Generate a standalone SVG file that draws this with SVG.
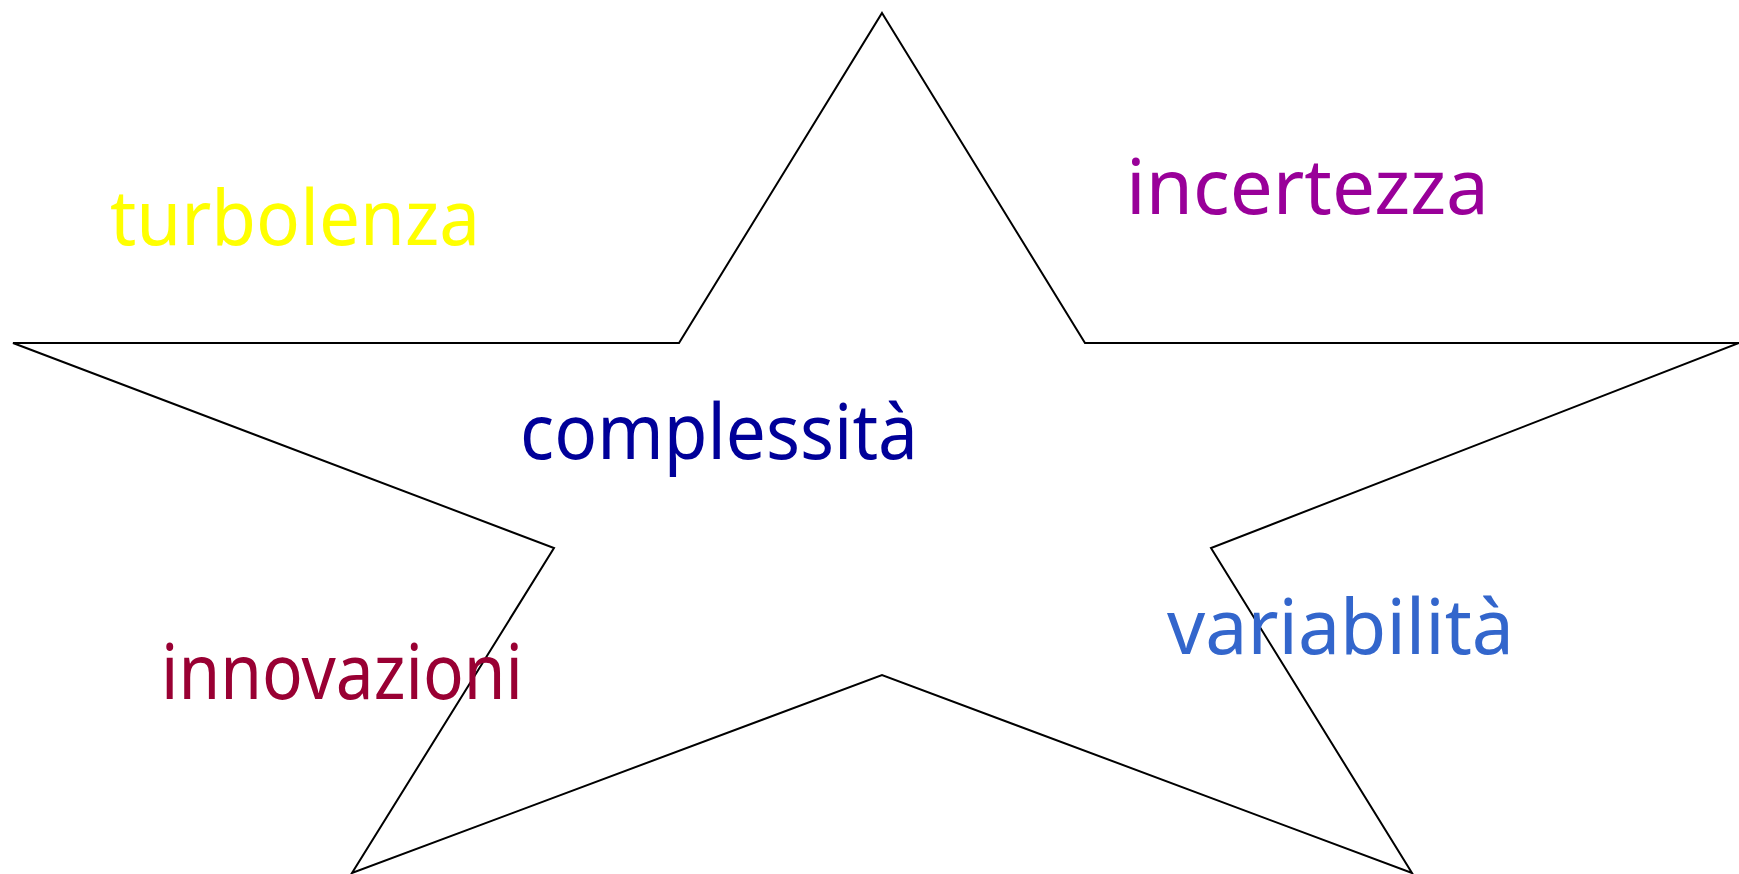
<svg xmlns="http://www.w3.org/2000/svg" width="1739" height="874" viewBox="0 0 1739 874">
<style>
.lbl{font-family:"Comic Sans MS","Noto Sans",sans-serif;font-size:76px;}
</style>
<rect width="1739" height="874" fill="#ffffff"/>
<g id="star">
<polygon points="882,13 1085,343 1739,343 1211,548 1412,873 882,675 352,873 554,548 13,343 679,343" fill="#ffffff" stroke="#000000" stroke-width="2"/>
</g>
<g id="turbolenza"><text class="lbl" x="110" y="245" fill="#FFFF00" textLength="370" lengthAdjust="spacingAndGlyphs">turbolenza</text></g>
<g id="incertezza"><text class="lbl" x="1126" y="214" fill="#990099" textLength="363" lengthAdjust="spacingAndGlyphs">incertezza</text></g>
<g id="complessita"><text class="lbl" x="520" y="459" fill="#000099" textLength="398" lengthAdjust="spacingAndGlyphs">complessità</text></g>
<g id="innovazioni"><text class="lbl" x="161" y="699" fill="#990033" textLength="362" lengthAdjust="spacingAndGlyphs">innovazioni</text></g>
<g id="variabilita"><text class="lbl" x="1167" y="654" fill="#3366CC" textLength="347" lengthAdjust="spacingAndGlyphs">variabilità</text></g>
</svg>
